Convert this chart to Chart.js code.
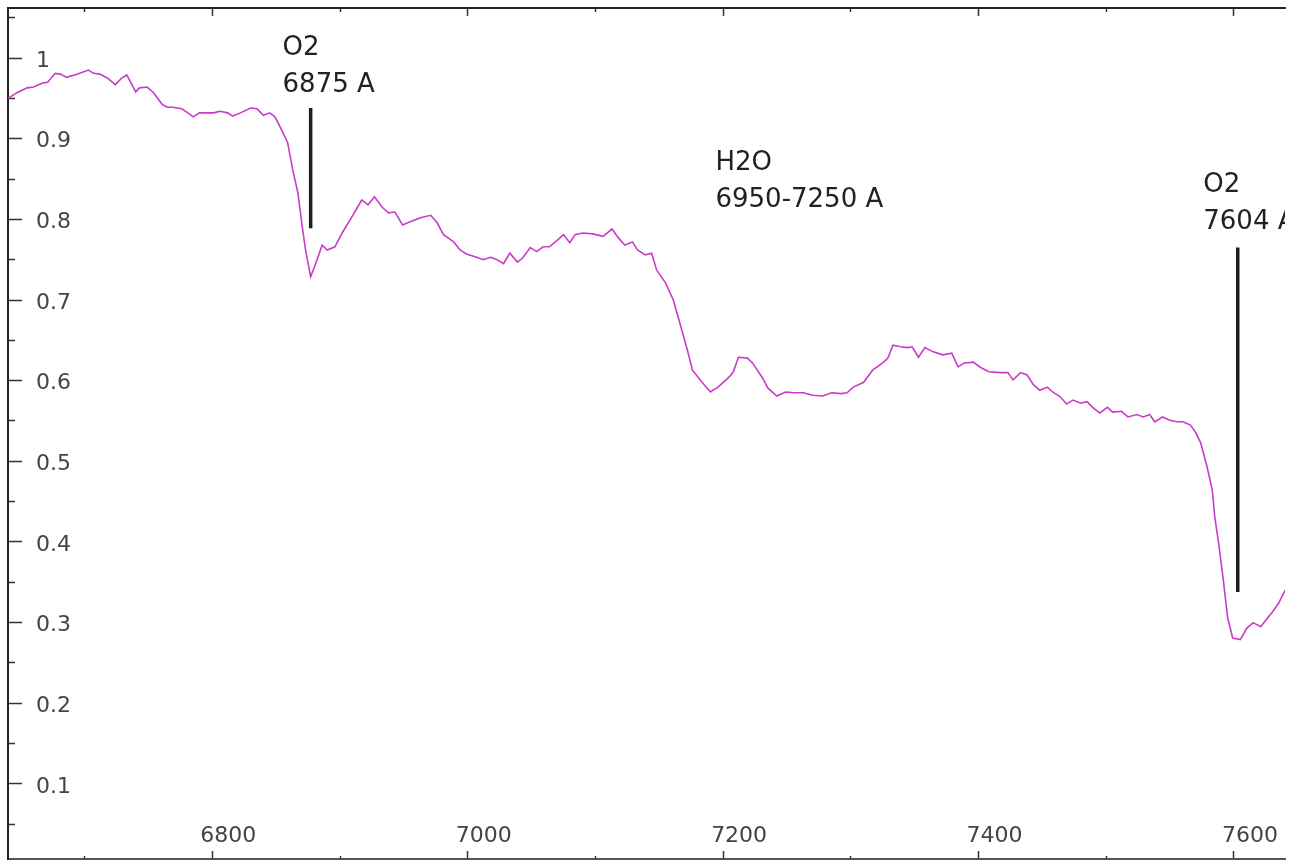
<!DOCTYPE html>
<html><head><meta charset="utf-8">
<script src="https://cdn.jsdelivr.net/npm/chart.js@4.4.1/dist/chart.umd.min.js"></script>
<style>html,body{margin:0;padding:0;background:#fff;overflow:hidden}canvas{display:block}</style>
</head><body>
<canvas id="c" width="1298" height="861"></canvas>
<script>
// ---- data (wavelength in Angstrom, relative flux) ----
const wavelength = [6640,6647,6655,6660,6667,6671,6677,6681,6686,6694,6703,6707,6712,6718,6724,6729,6733,6736,6740,6743,6749,6754,6761,6765,6769,6776,6780,6785,6790,6796,6801,6806,6812,6816,6822,6830,6835,6840,6845,6849,6853,6859,6863,6867,6870,6873,6877,6880,6886,6890,6896,6902,6910,6917,6922,6927,6933,6938,6943,6949,6955,6963,6971,6976,6981,6989,6994,6999,7007,7012,7018,7023,7028,7033,7039,7043,7049,7054,7059,7064,7070,7075,7080,7084,7090,7098,7106,7113,7118,7123,7129,7133,7139,7144,7148,7155,7161,7166,7172,7176,7184,7190,7196,7205,7208,7212,7219,7223,7231,7235,7242,7249,7255,7263,7270,7278,7285,7292,7297,7302,7310,7317,7325,7329,7333,7339,7344,7348,7353,7358,7364,7372,7379,7384,7389,7396,7401,7408,7417,7423,7427,7433,7438,7443,7448,7454,7458,7464,7469,7474,7480,7485,7490,7495,7501,7505,7512,7517,7524,7529,7534,7538,7544,7550,7555,7560,7566,7570,7574,7579,7583,7585,7588,7592,7595,7599,7605,7610,7615,7621,7624,7630,7635,7639,7645];
const flux = [0.950,0.957,0.963,0.964,0.969,0.970,0.981,0.980,0.976,0.980,0.985,0.981,0.980,0.975,0.967,0.975,0.979,0.970,0.958,0.963,0.964,0.957,0.942,0.939,0.939,0.937,0.933,0.927,0.932,0.932,0.932,0.934,0.932,0.928,0.932,0.938,0.937,0.929,0.932,0.927,0.915,0.895,0.861,0.833,0.796,0.762,0.729,0.741,0.768,0.762,0.766,0.784,0.805,0.824,0.818,0.828,0.815,0.808,0.809,0.793,0.797,0.802,0.805,0.796,0.781,0.772,0.762,0.757,0.753,0.750,0.753,0.750,0.745,0.758,0.747,0.752,0.765,0.760,0.766,0.766,0.774,0.781,0.771,0.781,0.783,0.782,0.779,0.788,0.777,0.768,0.772,0.762,0.756,0.758,0.737,0.721,0.700,0.672,0.638,0.613,0.597,0.586,0.592,0.605,0.611,0.629,0.628,0.622,0.603,0.591,0.581,0.586,0.585,0.585,0.582,0.581,0.585,0.584,0.585,0.592,0.598,0.613,0.622,0.628,0.644,0.642,0.641,0.642,0.629,0.641,0.636,0.632,0.634,0.617,0.622,0.623,0.617,0.611,0.610,0.610,0.601,0.610,0.607,0.595,0.588,0.592,0.586,0.580,0.571,0.576,0.572,0.574,0.566,0.560,0.567,0.561,0.562,0.555,0.558,0.555,0.558,0.549,0.555,0.551,0.549,0.549,0.545,0.536,0.523,0.493,0.465,0.431,0.399,0.349,0.307,0.281,0.279,0.293,0.300,0.295,0.301,0.313,0.324,0.337,0.352];

const xRange = [6640, 7640];
const yRange = [0.007, 1.062];
const xTickValues = [6700,6800,6900,7000,7100,7200,7300,7400,7500,7600];
const xTickLabels = ['','6800','','7000','','7200','','7400','','7600'];
const yTickValues = [0.05,0.1,0.15,0.2,0.25,0.3,0.35,0.4,0.45,0.5,0.55,0.6,0.65,0.7,0.75,0.8,0.85,0.9,0.95,1,1.05];
const yTickLabels = ['','0.1','','0.2','','0.3','','0.4','','0.5','','0.6','','0.7','','0.8','','0.9','','1',''];

// absorption band markers
const markerWavelength = [6877, 7603];
const markerTop = [0.938, 0.765];
const markerBottom = [0.789, 0.338];
const noteLines = [['O2','6875 A'],['H2O','6950-7250 A'],['O2','7604 A']];
const noteWavelength = [6855, 7194, 7576];
const noteLevel = [1.004, 0.861, 0.834];

// ---- chart ----
Chart.defaults.font.family = '"DejaVu Sans", "Liberation Sans", sans-serif';

const spectrum = wavelength.map((w, i) => ({x: w, y: flux[i]}));
const markerSets = markerWavelength.map((w, i) => ({
  data: [{x: w, y: markerTop[i]}, {x: w, y: markerBottom[i]}],
  borderColor: '#1e1e1e', borderWidth: 3.5, pointRadius: 0, borderCapStyle: 'butt'
}));

function fixBox(w, h) {
  return s => {
    s.paddingLeft = s.paddingRight = s.paddingTop = s.paddingBottom = 0;
    if (w !== null) s.width = w;
    if (h !== null) s.height = h;
  };
}
const setTicks = (vals) => s => { s.ticks = vals.map(v => ({value: v})); };

const notesPlugin = {
  id: 'notes',
  afterDatasetsDraw(chart) {
    const {ctx, chartArea, scales: {x, y}} = chart;
    ctx.save();
    ctx.beginPath();
    ctx.rect(chartArea.left, chartArea.top, chartArea.right - chartArea.left, chartArea.bottom - chartArea.top);
    ctx.clip();
    ctx.font = '26px "DejaVu Sans"';
    ctx.fillStyle = '#222';
    ctx.textAlign = 'left';
    ctx.textBaseline = 'alphabetic';
    noteLines.forEach((lines, i) => {
      const px = x.getPixelForValue(noteWavelength[i]);
      const py = y.getPixelForValue(noteLevel[i]);
      lines.forEach((t, j) => ctx.fillText(t, px, py + j * 37));
    });
    ctx.restore();
  }
};

new Chart(document.getElementById('c'), {
  type: 'line',
  data: {
    datasets: [
      {data: spectrum, borderColor: '#c83cc8', borderWidth: 1.6, pointRadius: 0, tension: 0},
      ...markerSets
    ]
  },
  options: {
    responsive: false,
    devicePixelRatio: 1,
    animation: false,
    layout: {padding: {left: 0, right: 13, top: 0, bottom: 0}},
    plugins: {legend: {display: false}, tooltip: {enabled: false}},
    scales: {
      x: {
        type: 'linear', position: 'bottom', min: xRange[0], max: xRange[1], bounds: 'data',
        afterBuildTicks: setTicks(xTickValues),
        afterFit: fixBox(null, 2),
        border: {display: true, color: '#555', width: 2},
        grid: {
          drawOnChartArea: false, drawTicks: true, tickLength: -8, tickWidth: 1.5, tickColor: '#333',
          tickBorderDash: c => xTickLabels[c.index] === '' ? [4, 100] : []
        },
        ticks: {
          mirror: true, padding: 10, labelOffset: 16, autoSkip: false, maxRotation: 0,
          color: '#444', font: {size: 22},
          callback: (v, i) => xTickLabels[i]
        }
      },
      x2: {
        type: 'linear', position: 'top', min: xRange[0], max: xRange[1], bounds: 'data',
        afterBuildTicks: setTicks(xTickValues),
        afterFit: fixBox(null, 8),
        border: {display: true, color: '#222', width: 2},
        grid: {
          drawOnChartArea: false, drawTicks: true, tickLength: -8, tickWidth: 1.5, tickColor: '#333',
          tickBorderDash: c => xTickLabels[c.index] === '' ? [0, 4, 4, 100] : []
        },
        ticks: {display: false}
      },
      y: {
        type: 'linear', position: 'left', min: yRange[0], max: yRange[1], bounds: 'data',
        afterBuildTicks: setTicks(yTickValues),
        afterFit: fixBox(8, null),
        border: {display: true, color: '#222', width: 2},
        grid: {
          drawOnChartArea: false, drawTicks: true, tickLength: -14, tickWidth: 1.5, tickColor: '#333',
          tickBorderDash: c => yTickLabels[c.index] === '' ? [0, 7, 7, 100] : []
        },
        ticks: {
          mirror: true, padding: 28, labelOffset: 3, autoSkip: false,
          color: '#444', font: {size: 22},
          callback: (v, i) => yTickLabels[i]
        }
      }
    }
  },
  plugins: [notesPlugin]
});
</script>
</body></html>
